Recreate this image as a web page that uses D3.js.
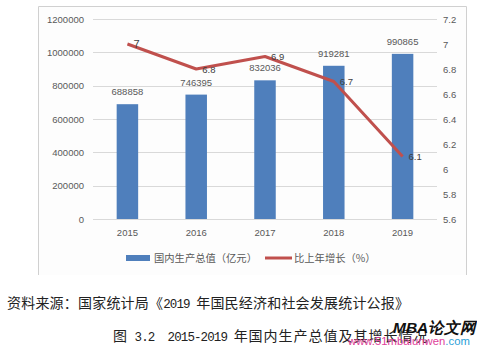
<!DOCTYPE html>
<html><head><meta charset="utf-8">
<script src="https://cdn.jsdelivr.net/npm/d3@7"></script>
<style>body{margin:0;background:#fff}svg{display:block}</style>
</head><body>
<script>
const years = ["2015","2016","2017","2018","2019"];
const gdp = [688858, 746395, 832036, 919281, 990865];
const growth = [7, 6.8, 6.9, 6.7, 6.1];
const leftTicks = [0,200000,400000,600000,800000,1000000,1200000];
const rightTicks = [5.6,5.8,6,6.2,6.4,6.6,6.8,7,7.2];
const legendLabels = ["国内生产总值（亿元）","比上年增长（%）"];
const sourceText = "资料来源：国家统计局《2019 年国民经济和社会发展统计公报》";
const captionText = "图 3.2  2015-2019 年国内生产总值及其增长情况";

const W = 477, H = 347;
const svg = d3.select("body").append("svg").attr("width", W).attr("height", H);
const num = "'Liberation Sans', Arial, sans-serif";
const cjk = "'Noto Sans CJK SC', sans-serif";
const gray = "#595959";

// chart frame
svg.append("rect").attr("x",38).attr("y",6).attr("width",429).attr("height",269).attr("fill","#fdfdfd");
svg.append("path").attr("d","M38.5,275V6.5H466.5V275").attr("fill","none").attr("stroke","#d0d0d0").attr("stroke-width",1);

const x = d3.scaleBand().domain(years).range([93,437]).paddingInner(0.6875).paddingOuter(0.344);
const yL = d3.scaleLinear().domain([0,1200000]).range([219,19]);
const yR = d3.scaleLinear().domain([5.6,7.2]).range([219,19]);

// gridlines
svg.append("g").selectAll("line").data(leftTicks).join("line")
  .attr("x1",93).attr("x2",437).attr("y1",d=>Math.round(yL(d))+0.5).attr("y2",d=>Math.round(yL(d))+0.5)
  .attr("stroke","#d9d9d9");

// left axis
const axL = svg.append("g").attr("transform","translate(93,0)")
  .call(d3.axisLeft(yL).tickValues(leftTicks).tickSize(0).tickPadding(9).tickFormat(d3.format("d")));
axL.select(".domain").remove();
axL.selectAll("text").attr("font-family",num).attr("font-size",9.5).attr("fill",gray);

// right axis
const axR = svg.append("g").attr("transform","translate(437,0)")
  .call(d3.axisRight(yR).tickValues(rightTicks).tickSize(0).tickPadding(6).tickFormat(d=>String(+d.toFixed(1))));
axR.select(".domain").remove();
axR.selectAll("text").attr("font-family",num).attr("font-size",9.5).attr("fill",gray);

// bottom axis
const axB = svg.append("g").attr("transform","translate(0,219)")
  .call(d3.axisBottom(x).tickSize(0).tickPadding(10));
axB.select(".domain").remove();
axB.selectAll("text").attr("font-family",num).attr("font-size",9.5).attr("fill",gray);

// bars
svg.append("g").selectAll("rect").data(gdp).join("rect")
  .attr("x",(d,i)=>x(years[i])).attr("width",x.bandwidth())
  .attr("y",d=>yL(d)).attr("height",d=>yL(0)-yL(d)).attr("fill","#4f7fbc");

svg.append("g").selectAll("text").data(gdp).join("text")
  .attr("x",(d,i)=>x(years[i])+x.bandwidth()/2).attr("y",d=>yL(d)-9)
  .attr("text-anchor","middle").attr("font-family",num).attr("font-size",9.5).attr("fill",gray)
  .text(d=>d);

// line
const line = d3.line().x((d,i)=>x(years[i])+x.bandwidth()/2).y(d=>yR(d));
svg.append("path").datum(growth).attr("d",line).attr("fill","none")
  .attr("stroke","#c0504d").attr("stroke-width",3).attr("stroke-linejoin","round");

svg.append("g").selectAll("text").data(growth).join("text")
  .attr("x",(d,i)=>x(years[i])+x.bandwidth()/2+6).attr("y",d=>yR(d)+3.5)
  .attr("font-family",num).attr("font-size",(d,i)=>i===0?11:9.5).attr("fill","#404040")
  .text(d=>d);

// legend
svg.append("rect").attr("x",126).attr("y",255).attr("width",24).attr("height",6).attr("fill","#4f7fbc");
svg.append("text").attr("x",154).attr("y",262).attr("font-family",cjk).attr("font-size",10.3).attr("fill",gray).text(legendLabels[0]);
svg.append("line").attr("x1",265).attr("x2",292).attr("y1",258).attr("y2",258).attr("stroke","#c0504d").attr("stroke-width",3);
svg.append("text").attr("x",294).attr("y",262).attr("font-family",cjk).attr("font-size",10.3).attr("fill",gray).text(legendLabels[1]);

// mixed-script text: ASCII runs in a mono font, CJK runs in CJK font
function mixed(sel, str, cjkSize, latSize, cjkSpacing, latSpacing){
  const runs = str.match(/[\x00-\x7F]+|[^\x00-\x7F]+/g);
  runs.forEach(r=>{
    const ascii = /^[\x00-\x7F]+$/.test(r);
    sel.append("tspan").attr("font-family", ascii ? "'Liberation Mono', monospace" : cjk)
      .attr("font-size", ascii ? latSize : cjkSize)
      .attr("letter-spacing", ascii ? latSpacing : cjkSpacing)
      .style("white-space","pre").text(r);
  });
}
const src = svg.append("text").attr("x",7).attr("y",308).attr("fill","#222").style("white-space","pre");
mixed(src, sourceText, 14, 12.5, 0.2, -0.9);
const cap = svg.append("text").attr("x",113).attr("y",341).attr("fill","#222").style("white-space","pre");
mixed(cap, captionText, 14, 12.5, 1, -0.9);

// watermark
svg.append("text").attr("x",393).attr("y",333).attr("font-family",num).attr("font-weight","bold").attr("font-style","italic").attr("font-size",15.5).attr("fill","#111").text("MBA论文网");
const wm = svg.append("text").attr("x",348).attr("y",345).attr("font-family",num).attr("font-size",11.3);
wm.append("tspan").attr("fill","#e0409a").text("www.51mbalunwen");
wm.append("tspan").attr("fill","#2aa0d8").text(".com");
</script>
</body></html>
